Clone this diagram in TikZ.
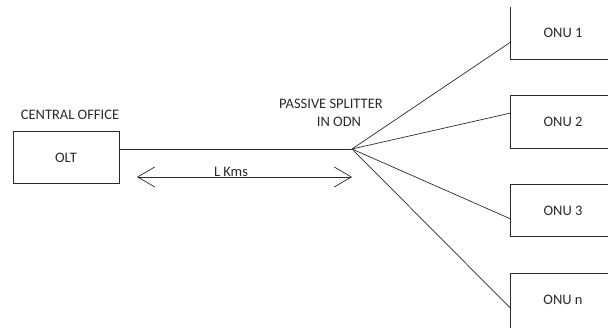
\documentclass[tikz,border=0pt]{standalone}
\usepackage{fontspec}
\setmainfont{Carlito}
\usetikzlibrary{arrows.meta}
\definecolor{ink}{HTML}{2A2A2A}
\begin{document}
\begin{tikzpicture}[x=1pt,y=1pt,
  font=\fontsize{14.5}{17}\selectfont,
  boxstyle/.style={draw=ink,line width=0.8pt,minimum height=52pt,inner sep=0pt},
  onubox/.style={minimum width=104pt,minimum height=52pt,inner sep=0pt,text=ink},
  edge3/.style={draw=ink,line width=0.8pt},
  wire/.style={draw=ink,line width=0.7pt},
  lbl/.style={text=ink,inner sep=0pt}]
\useasboundingbox (0,0) rectangle (608,327);
\node[boxstyle,minimum width=106pt,text=ink] (olt) at (66,169.5) {OLT};
\node[onubox] (onu1) at (563,294) {ONU 1};
\node[onubox] (onu2) at (563,205) {ONU 2};
\node[onubox] (onu3) at (563,116.5) {ONU 3};
\node[onubox] (onun) at (563,27) {ONU n};
\draw[edge3] (onu1.north west) -- (onu1.south west) -- ([xshift=20pt]onu1.south east);
\draw[edge3] ([xshift=20pt]onu2.north east) -- (onu2.north west) -- (onu2.south west) -- ([xshift=20pt]onu2.south east);
\draw[edge3] ([xshift=20pt]onu3.north east) -- (onu3.north west) -- (onu3.south west) -- ([xshift=20pt]onu3.south east);
\draw[edge3] ([xshift=20pt]onun.north east) -- (onun.north west) -- ([yshift=-3pt]onun.south west);
\coordinate (sp) at (352,178);
\node[lbl] (co) at (70,212) {CENTRAL OFFICE};
\node[lbl] (ps) at (331,223) {PASSIVE SPLITTER};
\node[lbl] (odn) at (339,205) {IN ODN};
\draw[wire] ([yshift=8.5pt]olt.east) -- (sp);
\draw[wire] (sp) -- ([yshift=-9pt]onu1.west);
\draw[wire] (sp) -- ([yshift=9pt]onu2.west);
\draw[wire] (sp) -- ([yshift=-8.5pt]onu3.west);
\draw[wire] (sp) -- ([yshift=-8.5pt]onun.west);
\coordinate (aL) at (137,150);
\coordinate (aR) at (352,150);
\draw[wire,{Straight Barb[length=17pt,width=20pt]}-{Straight Barb[length=17pt,width=20pt]}] (aL) -- (aR);
\node[lbl] (lk) at (231,155) {L Kms};
\end{tikzpicture}
\end{document}
